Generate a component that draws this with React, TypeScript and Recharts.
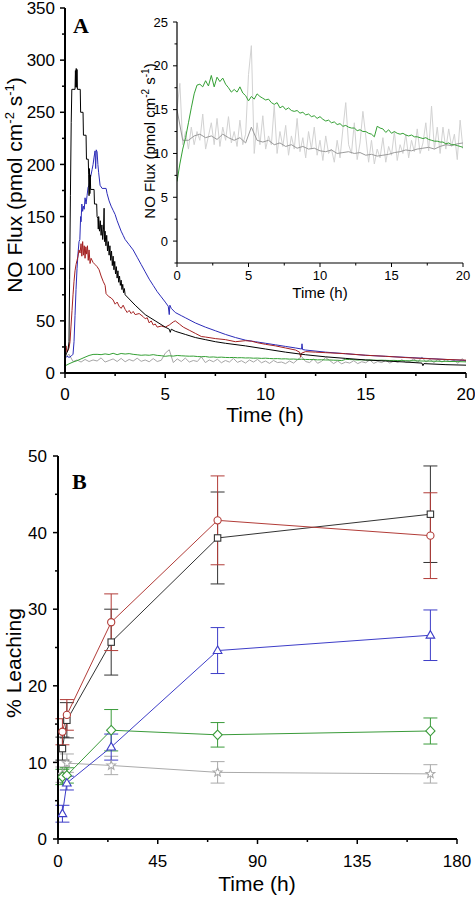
import React from 'react';
import { LineChart, Line, XAxis, YAxis, ErrorBar } from 'recharts';

const FONT = '"Liberation Sans", Arial, Helvetica, sans-serif';
const SERIF = '"Liberation Serif", "Times New Roman", serif';

// ---------- Panel A (NO flux, pmol cm-2 s-1 vs time, h) ----------
const BLACK_FLUX: [number, number][] = [
  [0, 15], [0.08, 19], [0.15, 22], [0.2, 30], [0.23, 90], [0.27, 170], [0.31, 240], [0.34, 272],
  [0.5, 272], [0.52, 290], [0.54, 274], [0.56, 292], [0.58, 274], [0.6, 291], [0.62, 272], [0.76, 272],
  [0.78, 250], [0.9, 250], [0.92, 228], [1.05, 228], [1.07, 205], [1.16, 205], [1.18, 190], [1.2, 170],
  [1.22, 196], [1.24, 172], [1.26, 190], [1.28, 176], [1.45, 176], [1.47, 162], [1.58, 162], [1.6, 150],
  [1.64, 148], [1.66, 138], [1.68, 150], [1.72, 136], [1.76, 146], [1.8, 132], [1.84, 142], [1.88, 128],
  [1.92, 138], [1.95, 158], [1.97, 126], [2.0, 136], [2.04, 122], [2.08, 132], [2.12, 117], [2.16, 126],
  [2.2, 113], [2.24, 122], [2.28, 108], [2.32, 117], [2.36, 103], [2.4, 112], [2.44, 99], [2.48, 107],
  [2.52, 95], [2.56, 102], [2.6, 91], [2.64, 98], [2.68, 87], [2.72, 93], [2.76, 84], [2.8, 89],
  [2.84, 80], [2.88, 85], [2.92, 77], [2.96, 81], [3.0, 75], [3.2, 71], [3.5, 65], [4.0, 56],
  [4.5, 50], [5.0, 44], [5.2, 42], [5.25, 39], [5.3, 42], [5.5, 40], [6.0, 37], [6.5, 34],
  [7.0, 32], [7.5, 30], [8.0, 28.5], [9.0, 26], [10.0, 23], [11.0, 20], [12.0, 17.5], [13.0, 15.5],
  [14.0, 14], [15.0, 12.5], [16.0, 11.5], [17.0, 10.5], [17.8, 9.5], [17.85, 7], [17.9, 9], [19.0, 8],
  [20.0, 7.5],
];

const BLUE_FLUX: [number, number][] = [
  [0, 14], [0.1, 16], [0.2, 15], [0.3, 16], [0.4, 18], [0.45, 30], [0.5, 55], [0.55, 80],
  [0.6, 100], [0.65, 115], [0.7, 126], [0.74, 128], [0.78, 150], [0.8, 145], [0.84, 162], [0.88, 155],
  [0.92, 160], [0.96, 157], [1.0, 168], [1.05, 162], [1.1, 170], [1.15, 178], [1.2, 180], [1.25, 186],
  [1.3, 190], [1.35, 195], [1.4, 200], [1.45, 207], [1.5, 213], [1.53, 196], [1.56, 214], [1.6, 212],
  [1.64, 200], [1.68, 192], [1.75, 180], [1.85, 177], [2.05, 177], [2.1, 172], [2.2, 165], [2.3, 160],
  [2.4, 156], [2.5, 152], [2.6, 146], [2.7, 141], [2.8, 136], [2.9, 132], [3.0, 128], [3.2, 123],
  [3.4, 118], [3.6, 111], [3.8, 104], [4.0, 97], [4.2, 90], [4.4, 84], [4.6, 78], [4.8, 73],
  [5.0, 68], [5.15, 64], [5.2, 56], [5.23, 65], [5.3, 62], [5.5, 58], [5.8, 55], [6.0, 53],
  [6.5, 48], [7.0, 44], [7.5, 40.5], [8.0, 37], [8.5, 34], [9.0, 31.5], [9.5, 30], [10.0, 28.5],
  [10.5, 27], [11.0, 25.5], [11.5, 24], [11.8, 23], [11.82, 28], [11.85, 22.5], [12.0, 22], [13.0, 20],
  [14.0, 18.5], [15.0, 17], [16.0, 16], [17.0, 15], [18.0, 14], [19.0, 13], [20.0, 12],
];

const RED_FLUX: [number, number][] = [
  [0, 20], [0.05, 26], [0.1, 20], [0.15, 22], [0.2, 24], [0.25, 30], [0.3, 45], [0.35, 60],
  [0.4, 75], [0.45, 88], [0.5, 98], [0.55, 104], [0.6, 108], [0.65, 112], [0.7, 118], [0.75, 115],
  [0.8, 124], [0.84, 112], [0.88, 126], [0.92, 113], [0.96, 122], [1.0, 110], [1.04, 121], [1.08, 114],
  [1.12, 122], [1.16, 108], [1.2, 118], [1.25, 105], [1.3, 110], [1.4, 106], [1.5, 104], [1.6, 102],
  [1.7, 99], [1.8, 93], [1.9, 88], [2.0, 84], [2.05, 76], [2.1, 75], [2.2, 73], [2.3, 72],
  [2.4, 70], [2.5, 66], [2.6, 68], [2.7, 64], [2.8, 62], [2.9, 65], [3.0, 61], [3.1, 58],
  [3.2, 60], [3.3, 57], [3.4, 59], [3.5, 56], [3.7, 57], [3.9, 54], [4.0, 52], [4.1, 53],
  [4.2, 48], [4.3, 50], [4.4, 46], [4.5, 47], [4.6, 44], [4.8, 45], [5.0, 44], [5.2, 46],
  [5.4, 49], [5.5, 50], [5.7, 47], [5.9, 44], [6.2, 41], [6.5, 38], [6.8, 35], [7.0, 34.5],
  [7.5, 33], [8.0, 32], [8.5, 30], [9.0, 31], [9.3, 30.5], [9.6, 29], [10.0, 27.5], [10.5, 26],
  [11.0, 24], [11.5, 22], [11.7, 20], [11.75, 15.5], [11.8, 19], [12.0, 20.5], [12.5, 20], [13.0, 19.5],
  [14.0, 18.5], [15.0, 17], [16.0, 16], [17.0, 14.8], [18.0, 13.8], [19.0, 13], [20.0, 12.3],
];

// green and grey traces sampled every 0.2 h (0..20 h)
const GRID_STEP = 0.2;
const GREEN_FLUX = [
  6.8, 8.8, 10.5, 11.8, 13.5, 15.2, 16.8, 17.8, 17.9, 17.6,
  18.3, 17.7, 18.9, 17.6, 18.7, 18.2, 18.6, 17.9, 17.5, 17.0,
  17.3, 17.0, 17.6, 16.9, 16.6, 16.0, 16.5, 16.2, 16.8, 16.5,
  16.3, 16.1, 16.2, 15.8, 15.6, 15.8, 15.2, 15.4, 15.0, 15.2,
  14.9, 14.8, 14.9, 14.6, 14.7, 14.4, 14.5, 14.2, 14.3, 14.0,
  14.2, 13.9, 13.7, 13.8, 13.5, 13.6, 13.3, 13.4, 13.1, 13.2,
  13.0, 12.9, 12.9, 12.6, 12.7, 12.5, 12.5, 12.3, 12.2, 11.9,
  13.1, 12.9, 12.8, 12.4, 12.7, 12.3, 12.5, 12.3, 12.2, 12.3,
  12.1, 12.0, 12.1, 11.9, 11.9, 11.8, 11.7, 11.8, 11.6, 11.5,
  11.4, 11.4, 11.3, 11.3, 11.1, 11.2, 11.0, 11.0, 10.9, 10.8,
  10.7,
];
const GRAY_FLUX = [
  15, 18, 11, 12.5, 10.5, 13, 11, 12.5, 11.5, 14.5,
  10.5, 12, 13.5, 11, 14, 10.8, 13, 11.5, 14.2, 11.2,
  12.5, 10.8, 13.8, 11, 12.2, 19, 22.3, 10, 13.5, 11,
  14.3, 10.5, 12, 11, 15.5, 10, 12.5, 10.8, 13.2, 9.8,
  12, 10.5, 14, 10.2, 11.8, 9.5, 12.5, 10.5, 13, 9.8,
  11.5, 9.2, 12, 10, 10.5, 9, 11.5, 9.5, 12.8, 15.8,
  11, 10, 13.5, 9.3, 11.2, 14.8, 12, 9, 11.5, 8.8,
  10.5, 9.5, 11.8, 9, 10.8, 9.8, 12.5, 9.2, 11, 10,
  12.2, 9.5, 11.5, 10.2, 12.8, 10, 11.2, 13.5, 10.3, 15.4,
  10.5, 13, 10, 13, 10.5, 12.8, 10.8, 12.2, 9.3, 13.8,
  10.5,
];
// darker centre of the grey band, sampled every 0.4 h
const GRAY_SMOOTH_STEP = 0.4;
const GRAY_SMOOTH = [
  15, 11.5, 11.5, 12, 12.2, 11.8, 12, 11.6, 12.2, 11.8,
  11.5, 11.8, 11.2, 13, 11.5, 11.3, 11.5, 11, 11.2, 10.8,
  11, 10.6, 10.8, 10.5, 10.6, 10.3, 10.2, 10.4, 10, 10.1,
  10.2, 10, 10.1, 9.8, 9.9, 9.7, 9.8, 9.9, 10.1, 10.2,
  10.4, 10.3, 10.5, 10.6, 10.7, 10.5, 10.8, 11, 10.9, 11.1,
  11.2,
];

const A_X_TICKS = [0, 2.5, 5, 7.5, 10, 12.5, 15, 17.5, 20];
const A_X_MAJOR = [0, 5, 10, 15, 20];
const A_Y_TICKS = [0, 25, 50, 75, 100, 125, 150, 175, 200, 225, 250, 275, 300, 325, 350];
const A_Y_MAJOR = [0, 50, 100, 150, 200, 250, 300, 350];
const INSET_Y_TICKS = [-2.5, 0, 2.5, 5, 7.5, 10, 12.5, 15, 17.5, 20, 22.5, 25];
const INSET_Y_MAJOR = [0, 5, 10, 15, 20, 25];

// ---------- Panel B (% leaching vs time, h) ----------
const B_TIMES = [2, 4, 24, 72, 168];
const B_BLACK = [11.8, 15.5, 25.7, 39.3, 42.4];
const B_BLACK_ERR = [1.5, 2.3, 4.3, 6.0, 6.3];
const B_RED = [14.0, 16.2, 28.3, 41.6, 39.6];
const B_RED_ERR = [1.7, 2.0, 3.7, 5.8, 5.6];
const B_BLUE = [3.3, 7.3, 12.0, 24.6, 26.6];
const B_BLUE_ERR = [1.1, 0.9, 1.7, 3.0, 3.3];
const B_GREEN = [8.1, 8.3, 14.2, 13.6, 14.1];
const B_GREEN_ERR = [1.0, 1.0, 2.7, 1.6, 1.7];
const B_GRAY = [8.4, 9.9, 9.6, 8.7, 8.5];
const B_GRAY_ERR = [1.0, 1.2, 1.2, 1.4, 1.2];

const B_X_TICKS = [0, 22.5, 45, 67.5, 90, 112.5, 135, 157.5, 180];
const B_X_MAJOR = [0, 45, 90, 135, 180];
const B_Y_TICKS = [0, 5, 10, 15, 20, 25, 30, 35, 40, 45, 50];
const B_Y_MAJOR = [0, 10, 20, 30, 40, 50];

// ---------- data tables ----------
const pairs = (arr: [number, number][]) => arr.map(([t, v]) => ({ t, v }));
const gridded = (arr: number[], step: number) => arr.map((v, i) => ({ t: +(i * step).toFixed(2), v }));

const blackData = pairs(BLACK_FLUX);
const blueData = pairs(BLUE_FLUX);
const redData = pairs(RED_FLUX);
const greenData = gridded(GREEN_FLUX, GRID_STEP);
const grayData = gridded(GRAY_FLUX, GRID_STEP);
const graySmoothData = gridded(GRAY_SMOOTH, GRAY_SMOOTH_STEP);

const leachData = B_TIMES.map((t, i) => ({
  t,
  black: B_BLACK[i], blackErr: B_BLACK_ERR[i],
  red: B_RED[i], redErr: B_RED_ERR[i],
  blue: B_BLUE[i], blueErr: B_BLUE_ERR[i],
  green: B_GREEN[i], greenErr: B_GREEN_ERR[i],
  gray: B_GRAY[i], grayErr: B_GRAY_ERR[i],
}));

// ---------- ticks ----------
type TickCfg = { majors: number[]; side: 'x' | 'y'; major: number; minor: number; fontSize: number; offset: number; sw: number };
const makeTick = (c: TickCfg) => (props: any) => {
  const { x, y, payload } = props;
  const v = payload.value as number;
  const isMajor = c.majors.some((m) => Math.abs(m - v) < 1e-6);
  const len = isMajor ? c.major : c.minor;
  if (c.side === 'x') {
    return (
      <g>
        <line x1={x} y1={y} x2={x} y2={y + len} stroke="#000" strokeWidth={c.sw} />
        {isMajor && (
          <text x={x} y={y + c.offset} textAnchor="middle" fontSize={c.fontSize} fontFamily={FONT} fill="#000">
            {v}
          </text>
        )}
      </g>
    );
  }
  return (
    <g>
      <line x1={x - len} y1={y} x2={x} y2={y} stroke="#000" strokeWidth={c.sw} />
      {isMajor && (
        <text x={x - c.offset} y={y + c.fontSize * 0.36} textAnchor="end" fontSize={c.fontSize} fontFamily={FONT} fill="#000">
          {v}
        </text>
      )}
    </g>
  );
};

// ---------- markers ----------
const markerFactory = (shape: string, color: string) => (props: any) => {
  const { cx, cy, index } = props;
  const key = `${shape}-${index}`;
  if (cx == null || cy == null) return <g key={key} />;
  const common = { fill: '#fff', stroke: color, strokeWidth: 1.1 };
  switch (shape) {
    case 'square':
      return <rect key={key} x={cx - 3.2} y={cy - 3.2} width={6.4} height={6.4} {...common} />;
    case 'circle':
      return <circle key={key} cx={cx} cy={cy} r={3.6} {...common} />;
    case 'triangle':
      return <polygon key={key} points={`${cx},${cy - 4.6} ${cx - 4.3},${cy + 2.9} ${cx + 4.3},${cy + 2.9}`} {...common} />;
    case 'diamond':
      return <polygon key={key} points={`${cx},${cy - 4.8} ${cx + 4.6},${cy} ${cx},${cy + 4.8} ${cx - 4.6},${cy}`} {...common} />;
    default: {
      const pts: string[] = [];
      for (let k = 0; k < 10; k++) {
        const r = k % 2 === 0 ? 4.6 : 2.0;
        const a = -Math.PI / 2 + (k * Math.PI) / 5;
        pts.push(`${cx + r * Math.cos(a)},${cy + r * Math.sin(a)}`);
      }
      return <polygon key={key} points={pts.join(' ')} {...common} />;
    }
  }
};

const C = {
  black: '#000000',
  blue: '#2b2bb8',
  red: '#a52222',
  green: '#34a034',
  gray: '#a6a6a6',
};
const CB = {
  black: '#333333',
  red: '#b23c38',
  blue: '#3d3dc8',
  green: '#3a9b3a',
  gray: '#aaaaaa',
};

export default function App() {
  const axisMain = { stroke: '#000', strokeWidth: 2 };
  const axisInset = { stroke: '#000', strokeWidth: 1.2 };
  return (
    <div style={{ position: 'absolute', left: 0, top: 0, width: 475, height: 900, background: '#fff' }}>
      {/* Panel A main */}
      <div style={{ position: 'absolute', left: 0, top: 0 }}>
        <LineChart width={475} height={430} margin={{ top: 8, right: 9, bottom: 0, left: 0 }}>
          <XAxis
            type="number" dataKey="t" domain={[0, 20]} ticks={A_X_TICKS} interval={0} allowDataOverflow
            height={57} axisLine={axisMain} tickLine={false} tickSize={0} tickMargin={0}
            tick={makeTick({ majors: A_X_MAJOR, side: 'x', major: 5, minor: 3, fontSize: 17, offset: 27, sw: 1.5 })}
          />
          <YAxis
            type="number" dataKey="v" domain={[0, 350]} ticks={A_Y_TICKS} interval={0} allowDataOverflow
            width={65} axisLine={axisMain} tickLine={false} tickSize={0} tickMargin={0}
            tick={makeTick({ majors: A_Y_MAJOR, side: 'y', major: 5, minor: 3, fontSize: 17, offset: 10, sw: 1.5 })}
          />
          <Line data={grayData} dataKey="v" stroke={C.gray} strokeWidth={1} dot={false} isAnimationActive={false} />
          <Line data={greenData} dataKey="v" stroke={C.green} strokeWidth={1} dot={false} isAnimationActive={false} />
          <Line data={blueData} dataKey="v" stroke={C.blue} strokeWidth={1} dot={false} isAnimationActive={false} />
          <Line data={redData} dataKey="v" stroke={C.red} strokeWidth={1} dot={false} isAnimationActive={false} />
          <Line data={blackData} dataKey="v" stroke={C.black} strokeWidth={1} dot={false} isAnimationActive={false} />
        </LineChart>
      </div>

      {/* Panel A inset */}
      <div style={{ position: 'absolute', left: 100, top: 0 }}>
        <LineChart width={375} height={310} margin={{ top: 22, right: 12, bottom: 0, left: 0 }}>
          <XAxis
            type="number" dataKey="t" domain={[0, 20]} ticks={A_X_TICKS} interval={0} allowDataOverflow
            height={47} axisLine={axisInset} tickLine={false} tickSize={0} tickMargin={0}
            tick={makeTick({ majors: A_X_MAJOR, side: 'x', major: 4, minor: 2.5, fontSize: 13, offset: 17, sw: 1 })}
          />
          <YAxis
            type="number" dataKey="v" domain={[-2.5, 25]} ticks={INSET_Y_TICKS} interval={0} allowDataOverflow
            width={77} axisLine={axisInset} tickLine={false} tickSize={0} tickMargin={0}
            tick={makeTick({ majors: INSET_Y_MAJOR, side: 'y', major: 4, minor: 2.5, fontSize: 13, offset: 9, sw: 1 })}
          />
          <Line data={grayData} dataKey="v" stroke="#d2d2d2" strokeWidth={1} dot={false} isAnimationActive={false} />
          <Line data={graySmoothData} dataKey="v" stroke="#9a9a9a" strokeWidth={1} dot={false} isAnimationActive={false} />
          <Line data={greenData} dataKey="v" stroke={C.green} strokeWidth={1} dot={false} isAnimationActive={false} />
        </LineChart>
      </div>

      {/* Panel B */}
      <div style={{ position: 'absolute', left: 0, top: 440 }}>
        <LineChart width={475} height={460} data={leachData} margin={{ top: 16, right: 18, bottom: 0, left: 0 }}>
          <XAxis
            type="number" dataKey="t" domain={[0, 180]} ticks={B_X_TICKS} interval={0} allowDataOverflow
            height={61} axisLine={axisMain} tickLine={false} tickSize={0} tickMargin={0}
            tick={makeTick({ majors: B_X_MAJOR, side: 'x', major: 5, minor: 3, fontSize: 17, offset: 28, sw: 1.5 })}
          />
          <YAxis
            type="number" domain={[0, 50]} ticks={B_Y_TICKS} interval={0} allowDataOverflow
            width={58} axisLine={axisMain} tickLine={false} tickSize={0} tickMargin={0}
            tick={makeTick({ majors: B_Y_MAJOR, side: 'y', major: 5, minor: 3, fontSize: 17, offset: 11, sw: 1.5 })}
          />
          <Line dataKey="gray" stroke={CB.gray} strokeWidth={1} dot={markerFactory('star', CB.gray)} isAnimationActive={false}>
            <ErrorBar dataKey="grayErr" direction="y" width={7} stroke={CB.gray} strokeWidth={1} />
          </Line>
          <Line dataKey="green" stroke={CB.green} strokeWidth={1} dot={markerFactory('diamond', CB.green)} isAnimationActive={false}>
            <ErrorBar dataKey="greenErr" direction="y" width={7} stroke={CB.green} strokeWidth={1} />
          </Line>
          <Line dataKey="blue" stroke={CB.blue} strokeWidth={1} dot={markerFactory('triangle', CB.blue)} isAnimationActive={false}>
            <ErrorBar dataKey="blueErr" direction="y" width={7} stroke={CB.blue} strokeWidth={1} />
          </Line>
          <Line dataKey="black" stroke={CB.black} strokeWidth={1} dot={markerFactory('square', CB.black)} isAnimationActive={false}>
            <ErrorBar dataKey="blackErr" direction="y" width={7} stroke={CB.black} strokeWidth={1} />
          </Line>
          <Line dataKey="red" stroke={CB.red} strokeWidth={1} dot={markerFactory('circle', CB.red)} isAnimationActive={false}>
            <ErrorBar dataKey="redErr" direction="y" width={7} stroke={CB.red} strokeWidth={1} />
          </Line>
        </LineChart>
      </div>

      {/* Titles and panel letters */}
      <svg width={475} height={900} style={{ position: 'absolute', left: 0, top: 0, pointerEvents: 'none' }}>
        <text x={73} y={33} fontFamily={SERIF} fontWeight="bold" fontSize={22} fill="#000">A</text>
        <text x={72} y={489} fontFamily={SERIF} fontWeight="bold" fontSize={22} fill="#000">B</text>

        <text transform="translate(22,185) rotate(-90)" textAnchor="middle" fontSize={21} fontFamily={FONT} fill="#000">
          NO Flux (pmol cm<tspan dy={-8} fontSize={13}>-2</tspan>
          <tspan dy={8}> s</tspan>
          <tspan dy={-8} fontSize={13}>-1</tspan>
          <tspan dy={8}>)</tspan>
        </text>
        <text x={265} y={422} textAnchor="middle" fontSize={21} fontFamily={FONT} fill="#000">Time (h)</text>

        <text transform="translate(155,141) rotate(-90)" textAnchor="middle" fontSize={15} fontFamily={FONT} fill="#000">
          NO Flux (pmol cm<tspan dy={-6} fontSize={10}>-2</tspan>
          <tspan dy={6}> s</tspan>
          <tspan dy={-6} fontSize={10}>-1</tspan>
          <tspan dy={6}>)</tspan>
        </text>
        <text x={320} y={298} textAnchor="middle" fontSize={15} fontFamily={FONT} fill="#000">Time (h)</text>

        <text transform="translate(21,663) rotate(-90)" textAnchor="middle" fontSize={21} fontFamily={FONT} fill="#000">% Leaching</text>
        <text x={257} y={891} textAnchor="middle" fontSize={21} fontFamily={FONT} fill="#000">Time (h)</text>
      </svg>
    </div>
  );
}
